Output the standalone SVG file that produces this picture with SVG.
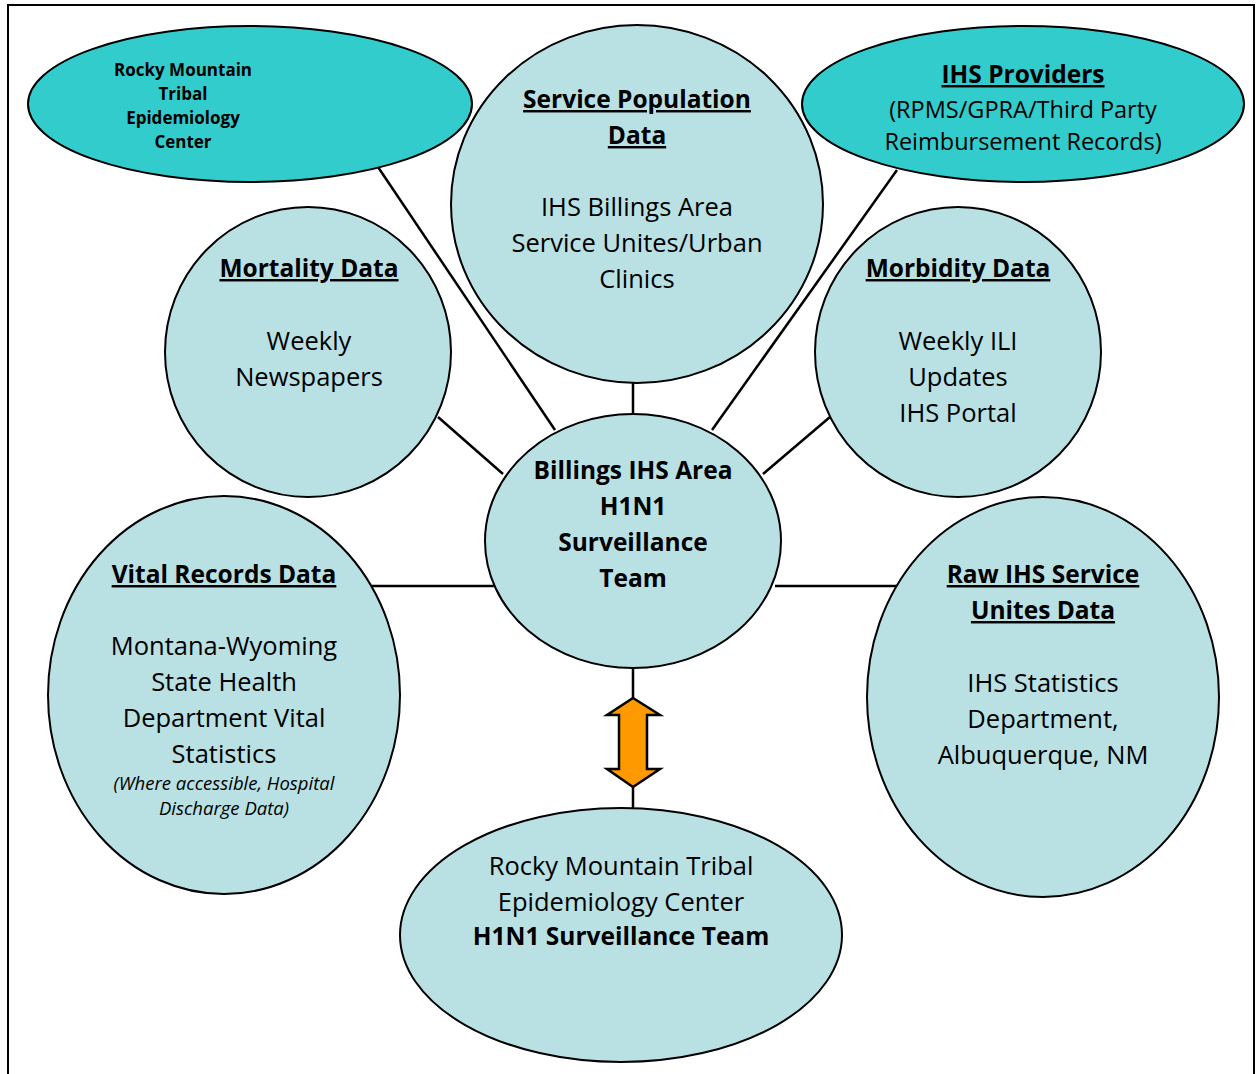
<svg xmlns="http://www.w3.org/2000/svg" width="1258" height="1074" viewBox="0 0 1258 1074">
<style>
.teal{fill:#33CCCC;stroke:#000;stroke-width:2}
.lt{fill:#B9E0E3;stroke:#000;stroke-width:2}
.ln{stroke:#000;stroke-width:2.5;fill:none}
text{font-family:"Open Sans","Liberation Sans",Arial,sans-serif;font-size:25.5px;fill:#000;text-anchor:middle}
.b{font-weight:bold;font-size:24.5px}
.u{text-decoration:underline}
.m{font-size:23.5px}
.s{font-size:17px}
.i{font-style:italic;font-size:18.5px}
</style>
<rect x="8" y="5" width="1246" height="1080" fill="#fff" stroke="#000" stroke-width="2"/>
<g id="connectors">
<line class="ln" x1="378" y1="167" x2="555" y2="430"/>
<line class="ln" x1="897" y1="170" x2="712" y2="430"/>
<line class="ln" x1="633" y1="383" x2="633" y2="415"/>
<line class="ln" x1="438" y1="417" x2="503" y2="474"/>
<line class="ln" x1="830" y1="417" x2="763" y2="474"/>
<line class="ln" x1="372" y1="586" x2="494" y2="586"/>
<line class="ln" x1="775" y1="586" x2="897" y2="586"/>
<line class="ln" x1="633" y1="668" x2="633" y2="700"/>
<line class="ln" x1="633" y1="785" x2="633" y2="810"/>
<polygon points="633,698 660,715 647,715 647,769 660,769 633,787 607,769 619,769 619,715 607,715" fill="#FF9900" stroke="#000" stroke-width="2.5" stroke-linejoin="miter"/>
</g>
<g id="rmtec">
<ellipse class="teal" cx="250" cy="104" rx="222" ry="78"/>
<text class="b s" x="183" y="76">Rocky Mountain</text>
<text class="b s" x="183" y="100">Tribal</text>
<text class="b s" x="183" y="124">Epidemiology</text>
<text class="b s" x="183" y="148">Center</text>
</g>
<g id="ihs-providers">
<ellipse class="teal" cx="1023" cy="104" rx="221" ry="78"/>
<text class="b u" x="1023" y="83">IHS Providers</text>
<text class="m" x="1023" y="118">(RPMS/GPRA/Third Party</text>
<text class="m" x="1023" y="150">Reimbursement Records)</text>
</g>
<g id="service-population">
<ellipse class="lt" cx="637" cy="204" rx="186" ry="179"/>
<text class="b u" x="637" y="108">Service Population</text>
<text class="b u" x="637" y="144">Data</text>
<text x="637" y="216">IHS Billings Area</text>
<text x="637" y="252">Service Unites/Urban</text>
<text x="637" y="288">Clinics</text>
</g>
<g id="mortality">
<ellipse class="lt" cx="308" cy="352" rx="143" ry="145"/>
<text class="b u" x="309" y="277">Mortality Data</text>
<text x="309" y="350">Weekly</text>
<text x="309" y="386">Newspapers</text>
</g>
<g id="morbidity">
<ellipse class="lt" cx="958" cy="352" rx="143" ry="145"/>
<text class="b u" x="958" y="277">Morbidity Data</text>
<text x="958" y="350">Weekly ILI</text>
<text x="958" y="386">Updates</text>
<text x="958" y="422">IHS Portal</text>
</g>
<g id="center">
<ellipse class="lt" cx="633" cy="541" rx="148" ry="127"/>
<text class="b" x="633" y="479">Billings IHS Area</text>
<text class="b" x="633" y="515">H1N1</text>
<text class="b" x="633" y="551">Surveillance</text>
<text class="b" x="633" y="587">Team</text>
</g>
<g id="vital-records">
<ellipse class="lt" cx="224" cy="695" rx="176" ry="199"/>
<text class="b u" x="224" y="583">Vital Records Data</text>
<text x="224" y="655">Montana-Wyoming</text>
<text x="224" y="691">State Health</text>
<text x="224" y="727">Department Vital</text>
<text x="224" y="763">Statistics</text>
<text class="i" x="224" y="790">(Where accessible, Hospital</text>
<text class="i" x="224" y="815">Discharge Data)</text>
</g>
<g id="raw-ihs">
<ellipse class="lt" cx="1043" cy="697" rx="176" ry="200"/>
<text class="b u" x="1043" y="583">Raw IHS Service</text>
<text class="b u" x="1043" y="619">Unites Data</text>
<text x="1043" y="692">IHS Statistics</text>
<text x="1043" y="728">Department,</text>
<text x="1043" y="764">Albuquerque, NM</text>
</g>
<g id="rmtec-team">
<ellipse class="lt" cx="621" cy="935" rx="221" ry="127"/>
<text x="621" y="875">Rocky Mountain Tribal</text>
<text x="621" y="911">Epidemiology Center</text>
<text class="b" x="621" y="945">H1N1 Surveillance Team</text>
</g>
</svg>
